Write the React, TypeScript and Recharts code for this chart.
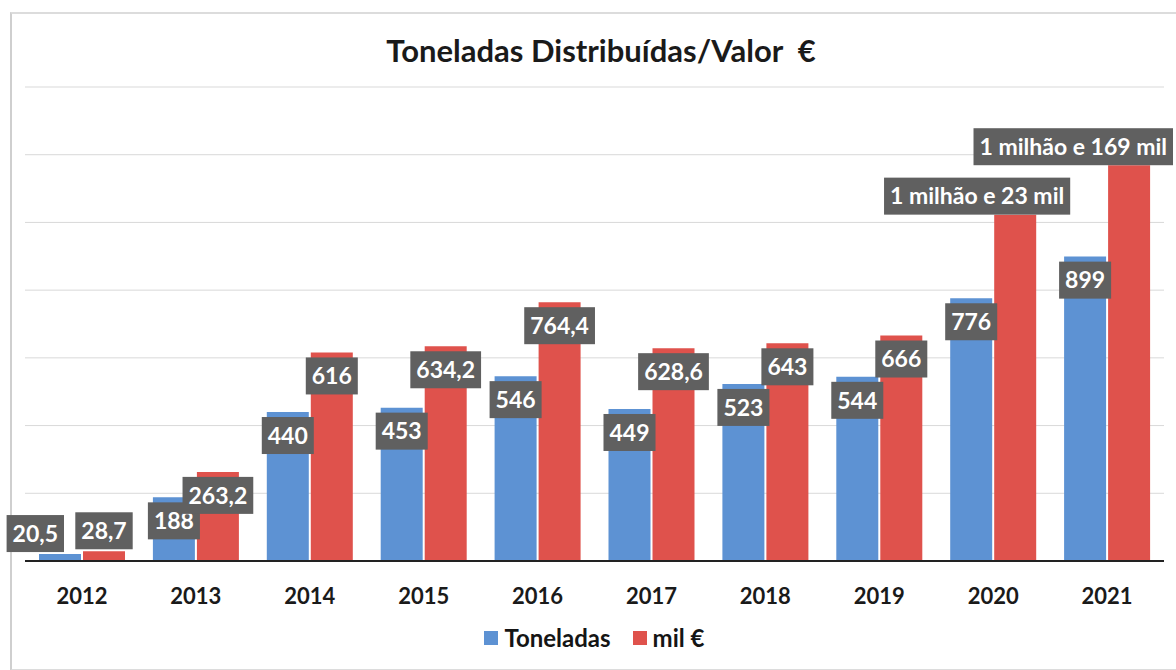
import { Bar, BarChart, CartesianGrid, LabelList, Legend, XAxis, YAxis } from "recharts";

const years = ["2012", "2013", "2014", "2015", "2016", "2017", "2018", "2019", "2020", "2021"];
const toneladas = [20.5, 188, 440, 453, 546, 449, 523, 544, 776, 899];
const milEuros = [28.7, 263.2, 616, 634.2, 764.4, 628.6, 643, 666, 1023, 1169];
const yTicks = [0, 200, 400, 600, 800, 1000, 1200, 1400];

const data = years.map((year, i) => ({ year, toneladas: toneladas[i], mil: milEuros[i] }));

const FONT = "Lato, 'Open Sans', sans-serif";
const BLUE = "#5d92d3";
const RED = "#df524c";
const BOX = "#606060";
const W = 1176;
const H = 670;
const LABEL_SIZE = 23;

// numbers are shown portuguese-style, big ones spelled out
function fmt(v: number) {
  if (v >= 1000) {
    const m = Math.floor(v / 1000);
    return `${m} milhão e ${Math.round(v - m * 1000)} mil`;
  }
  return String(v).replace(".", ",");
}

let ctx: CanvasRenderingContext2D | null = null;
function textWidth(s: string) {
  if (!ctx) ctx = document.createElement("canvas").getContext("2d");
  if (!ctx) return s.length * 12;
  ctx.font = `bold ${LABEL_SIZE}px ${FONT}`;
  return ctx.measureText(s).width;
}

function boxLabel(side: "left" | "right") {
  return (props: any) => {
    const { x, y, width, height, value } = props;
    const text = fmt(Number(value));
    const w = textWidth(text) + 12;
    const h = 37;
    const cx = x + width / 2;
    let bx = cx - w / 2;
    let by = y + 5;
    if (height < 40) {
      // tiny bars: put the box on top, keep the pair apart
      by = y - h - 2;
      if (side === "left") bx = cx + 4 - w;
    }
    if (w > width * 2) {
      by = y - h;
      bx = Math.min(x + width + 34, W - 3) - w;
    }
    return (
      <g>
        <rect x={bx} y={by} width={w} height={h} fill={BOX} />
        <text
          x={bx + w / 2}
          y={by + h / 2}
          dy="0.36em"
          textAnchor="middle"
          fill="#fff"
          fontFamily={FONT}
          fontWeight={700}
          fontSize={LABEL_SIZE}
        >
          {text}
        </text>
      </g>
    );
  };
}

function LegendRow({ payload }: any) {
  return (
    <div style={{ display: "flex", justifyContent: "center", alignItems: "center", gap: 22, fontFamily: FONT }}>
      {payload.map((p: any) => (
        <div key={p.value} style={{ display: "flex", alignItems: "center", gap: 6 }}>
          <span style={{ width: 14, height: 14, background: p.color, display: "inline-block" }} />
          <span style={{ fontSize: 24, fontWeight: 700, color: "#151515" }}>{p.value}</span>
        </div>
      ))}
    </div>
  );
}

export default function App() {
  return (
    <div style={{ position: "absolute", left: 0, top: 0, width: W, height: H, background: "#fff" }}>
      <div
        style={{
          position: "absolute",
          left: 10,
          top: 12,
          width: W,
          height: 655,
          borderLeft: "2px solid #cfcfcf",
          borderTop: "2px solid #dcdcdc",
          borderBottom: "2px solid #dcdcdc",
        }}
      />
      <div
        style={{
          position: "absolute",
          left: 0,
          top: 31,
          width: 1202,
          textAlign: "center",
          fontFamily: FONT,
          fontWeight: 700,
          fontSize: 31,
          color: "#1a1a1a",
        }}
      >
        Toneladas Distribuídas/Valor&nbsp; €
      </div>
      <div style={{ position: "absolute", left: 0, top: 0 }}>
        <BarChart
          width={W}
          height={H}
          data={data}
          margin={{ top: 87, right: 12, left: 25, bottom: 3 }}
          barSize={42}
          barGap={2}
        >
          <CartesianGrid vertical={false} stroke="#d9d9d9" />
          <YAxis hide domain={[0, 1400]} ticks={yTicks} />
          <XAxis
            dataKey="year"
            height={62}
            tickLine={false}
            axisLine={{ stroke: "#222", strokeWidth: 2 }}
            tickMargin={21}
            tick={{ fill: "#1a1a1a", fontSize: 22, fontWeight: 700, fontFamily: FONT }}
          />
          <Legend verticalAlign="bottom" height={44} content={<LegendRow />} />
          <Bar dataKey="toneladas" name="Toneladas" fill={BLUE} isAnimationActive={false}>
            <LabelList dataKey="toneladas" content={boxLabel("left")} />
          </Bar>
          <Bar dataKey="mil" name="mil €" fill={RED} isAnimationActive={false}>
            <LabelList dataKey="mil" content={boxLabel("right")} />
          </Bar>
        </BarChart>
      </div>
    </div>
  );
}
